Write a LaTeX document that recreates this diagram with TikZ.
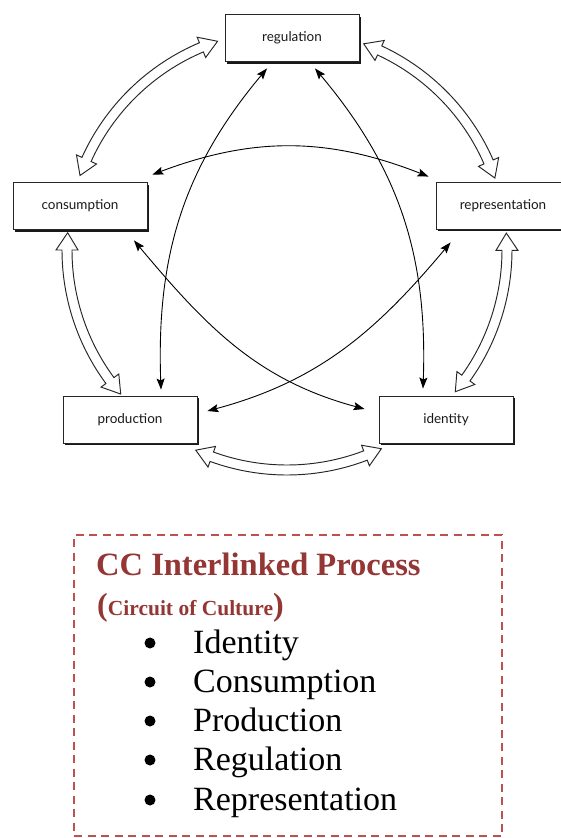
\documentclass[tikz,border=0pt]{standalone}
\usepackage{fontspec}
\setmainfont{Liberation Serif}
\newfontfamily\stagefont{Lato}
\usetikzlibrary{arrows.meta,shadows,calc}

\definecolor{ccred}{HTML}{943634}
\definecolor{ccdash}{HTML}{C0504D}

\tikzset{
  stage/.style={draw=black!85, line width=0.9pt, fill=white,
    minimum width=134pt, minimum height=47pt, inner sep=0pt,
    font=\stagefont\fontsize{13.5}{15}\selectfont, text=black!90,
    drop shadow={shadow xshift=2.2pt, shadow yshift=-2.2pt, fill=black!90, opacity=1}},
  link/.style={line width=0.9pt, black,
    arrows={Stealth[length=11pt,width=8pt,inset=2pt]-Stealth[length=11pt,width=8pt,inset=2pt]}},
  hollow/.style={draw=black!85, line width=0.95pt, fill=white, line join=miter},
  listitem/.style={anchor=base west, inner sep=0pt, font=\fontsize{34}{34}\selectfont},
  bulletdot/.style={circle, fill=black, inner sep=0pt, minimum size=11pt},
}

% open double-headed arrow running along the circle round (ctr)
\newcommand\hollowarc[2]{%
  \pgfmathsetmacro\hollowA{#1+4.5}%
  \pgfmathsetmacro\hollowB{#2-4.5}%
  \draw[hollow,shift={(ctr)}] (#1:220pt) -- (\hollowA:231pt) -- (\hollowA:225pt)
    arc[start angle=\hollowA,end angle=\hollowB,radius=225pt]
    -- (\hollowB:231pt) -- (#2:220pt) -- (\hollowB:209pt) -- (\hollowB:215pt)
    arc[start angle=\hollowB,end angle=\hollowA,radius=215pt]
    -- (\hollowA:209pt) -- cycle;}

\begin{document}
\begin{tikzpicture}[x=1pt,y=1pt]
\useasboundingbox (0,0) rectangle (561,-838);
\fill[white] (0,0) rectangle (561,-838);

\coordinate (ctr) at (287,-250);

% the five stages of the circuit
\node[stage] (reg)  at (292,-38)    {regulation};
\node[stage] (cons) at (80,-206)    {consumption};
\node[stage] (repr) at (503,-205.5) {representation};
\node[stage] (prod) at (130,-419.5) {production};
\node[stage] (iden) at (446,-419.5) {identity};

% outer ring of open arrows
\hollowarc{108.4}{160.2}
\hollowarc{19.1}{69.6}
\hollowarc{175.5}{220.9}
\hollowarc{-40.1}{4.4}
\hollowarc{245.5}{295.4}

% inner links
\draw[link] ([shift={(5,7.5)}]cons.north east) to[bend left=21] ([shift={(-7,5)}]repr.north west);
\draw[link] ([shift={(31,6)}]prod.north) to[out=92,in=230] ([shift={(-25,-6.5)}]reg.south);
\draw[link] ([shift={(-23,7)}]iden.north) to[out=88,in=-50] ([shift={(23,-6.5)}]reg.south);
\draw[link] ([shift={(54,-10.5)}]cons.south) to[out=-50,in=165] ([shift={(-14,10.5)}]iden.west);
\draw[link] ([shift={(15,-13)}]repr.south west) to[out=-130,in=15] ([shift={(10,8.5)}]prod.east);

% summary box
\node[draw=ccdash, dash pattern=on 8pt off 5.5pt, line width=2.4pt,
      minimum width=428pt, minimum height=301pt, inner sep=0pt] (legend) at (288,-685.5) {};
\node[anchor=base west, inner sep=0pt, text=ccred,
      font=\bfseries\fontsize{32.5}{33}\selectfont] (title) at (96,-575) {CC Interlinked Process};
\node[anchor=base west, inner sep=0pt, text=ccred,
      font=\bfseries\fontsize{21.5}{22}\selectfont] (sub) at (97,-615)
      {{\fontsize{32}{32}\selectfont(}Circuit of Culture{\fontsize{32}{32}\selectfont)}};

\node[bulletdot] (b1) at (150,-643) {};
\node[bulletdot] (b2) at (150,-682) {};
\node[bulletdot] (b3) at (150,-721) {};
\node[bulletdot] (b4) at (150,-760) {};
\node[bulletdot] (b5) at (150,-800) {};
\node[listitem] (i1) at (193,-653) {Identity};
\node[listitem] (i2) at (193,-692) {Consumption};
\node[listitem] (i3) at (193,-731) {Production};
\node[listitem] (i4) at (193,-770) {Regulation};
\node[listitem] (i5) at (193,-810) {Representation};
\end{tikzpicture}
\end{document}
